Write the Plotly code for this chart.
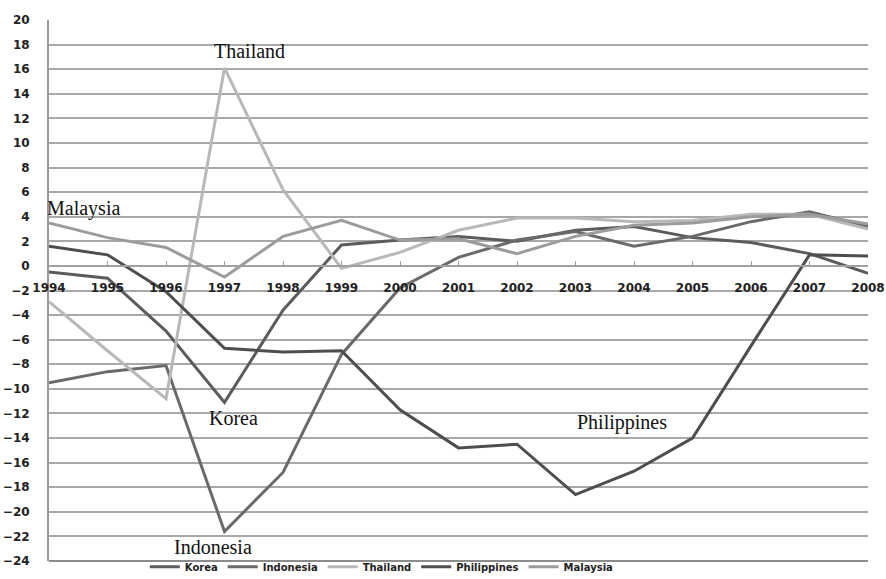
import plotly.graph_objects as go

years = list(range(1994, 2009))
korea = [-0.5, -1.0, -5.3, -11.1, -3.6, 1.7, 2.1, 2.4, 2.0, 2.9, 3.2, 2.3, 1.9, 1.0, -0.6]
indonesia = [-9.5, -8.6, -8.1, -21.6, -16.8, -7.2, -1.8, 0.7, 2.1, 2.8, 1.6, 2.4, 3.6, 4.4, 3.2]
thailand = [-2.9, -6.9, -10.8, 16.1, 6.2, -0.2, 1.1, 2.9, 3.9, 3.9, 3.6, 3.7, 4.2, 4.2, 3.0]
philippines = [1.6, 0.9, -2.1, -6.7, -7.0, -6.9, -11.7, -14.8, -14.5, -18.6, -16.7, -14.0, -6.5, 0.9, 0.8]
malaysia = [3.5, 2.3, 1.5, -0.9, 2.4, 3.7, 2.1, 2.2, 1.0, 2.4, 3.3, 3.5, 4.0, 4.2, 3.4]

series = [
    ("Korea", korea, "#5c5c5c"),
    ("Indonesia", indonesia, "#6a6a6a"),
    ("Thailand", thailand, "#b8b8b8"),
    ("Philippines", philippines, "#4e4e4e"),
    ("Malaysia", malaysia, "#9c9c9c"),
]

labels = [
    ("Thailand", 1997.42, 17.5, "center"),
    ("Malaysia", 1994.0, 4.7, "left"),
    ("Korea", 1997.15, -12.4, "center"),
    ("Indonesia", 1996.81, -22.85, "center"),
    ("Philippines", 2003.79, -12.75, "center"),
]

fig = go.Figure()
for name, vals, col in series:
    fig.add_trace(go.Scatter(x=years, y=vals, name=name, mode="lines",
                             line=dict(color=col, width=3)))

for txt, x, y, anc in labels:
    fig.add_annotation(x=x, y=y, text=txt, showarrow=False, xanchor=anc,
                       xshift=-4 if anc == "left" else 0,
                       font=dict(family="Liberation Serif", size=20, color="#111111"))

ymin, ymax = -24, 20
fig.update_layout(
    width=886, height=579,
    margin=dict(l=49, r=18, t=20, b=18, autoexpand=False),
    paper_bgcolor="white", plot_bgcolor="white",
    showlegend=True,
    legend=dict(orientation="h", x=0.117, y=0.016, xanchor="left", yanchor="top",
                font=dict(family="DejaVu Sans", size=10, color="#222222", weight="bold"),
                itemwidth=30, bgcolor="rgba(0,0,0,0)"),
    xaxis=dict(range=[1994, 2008], tickvals=years, ticktext=[str(y) for y in years],
               showgrid=False, zeroline=False, showline=True, linecolor="#a0a0a0", linewidth=1.5,
               anchor="free", position=(0 - ymin) / (ymax - ymin), side="bottom",
               ticks="inside", ticklen=4, tickcolor="#a0a0a0",
               ticklabelstandoff=11, automargin=False,
               tickfont=dict(family="DejaVu Sans", size=12, color="#222222", weight="bold")),
    yaxis=dict(range=[ymin, ymax], dtick=2, tick0=0, showgrid=True, gridcolor="#a8a8a8",
               gridwidth=1.5, zeroline=False, showline=True, linecolor="#9a9a9a", linewidth=2,
               ticks="", ticklabelstandoff=15, automargin=False,
               tickfont=dict(family="DejaVu Sans", size=12, color="#222222", weight="bold")),
)
# bottom frame line
fig.add_shape(type="line", xref="paper", yref="paper", x0=0, x1=1, y0=0, y1=0,
              line=dict(color="#8c8c8c", width=2))

fig.write_html("out.html")
